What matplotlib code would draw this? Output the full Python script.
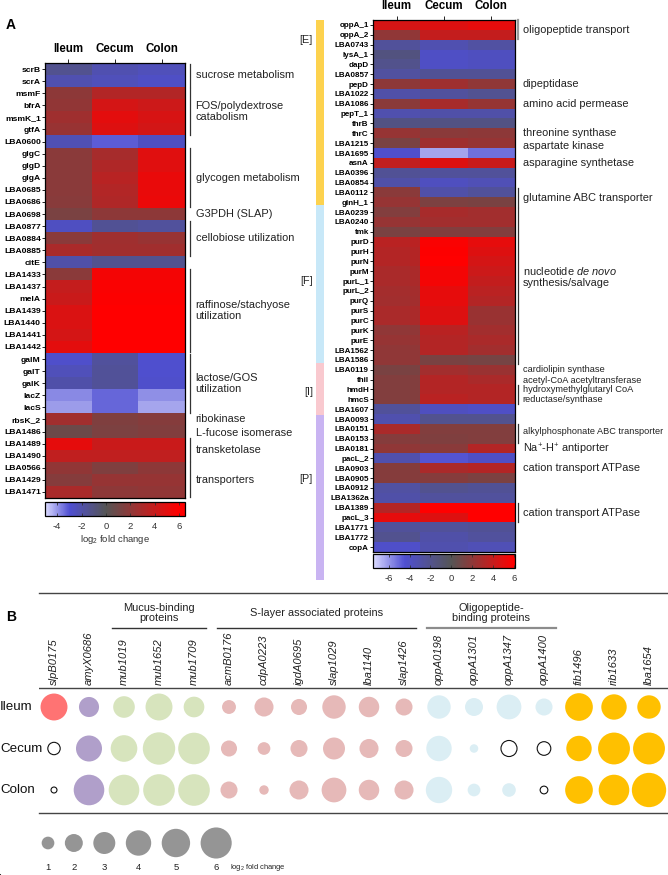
import numpy as np
import matplotlib
matplotlib.use('Agg')
import matplotlib.pyplot as plt
import matplotlib.transforms as mtrans
from matplotlib.colors import LinearSegmentedColormap

plt.rcParams['font.family'] = ['Liberation Sans', 'DejaVu Sans']
plt.rcParams['mathtext.fontset'] = 'custom'
plt.rcParams['mathtext.rm'] = 'Liberation Sans'
plt.rcParams['mathtext.it'] = 'Liberation Sans:italic'
plt.rcParams['mathtext.bf'] = 'Liberation Sans:bold'
plt.rcParams['axes.unicode_minus'] = False

# ---------------- data, panel A ----------------
tissues = ['Ileum', 'Cecum', 'Colon']

left_genes = ['scrB', 'scrA', 'msmF', 'bfrA', 'msmK_1', 'gtfA', 'LBA0600', 'glgC', 'glgD', 'glgA',
              'LBA0685', 'LBA0686', 'LBA0698', 'LBA0877', 'LBA0884', 'LBA0885', 'citE', 'LBA1433',
              'LBA1437', 'melA', 'LBA1439', 'LBA1440', 'LBA1441', 'LBA1442', 'galM', 'galT', 'galK',
              'lacZ', 'lacS', 'rbsK_2', 'LBA1486', 'LBA1489', 'LBA1490', 'LBA0566', 'LBA1429', 'LBA1471']
left_ileum = [-1.4, -2.2, 2.0, 2.1, 2.6, 2.4, -2.3, 1.9, 1.9, 1.9, 1.9, 1.8, 1.3, -2.6, 1.9, 3.0, -2.0, 1.9,
              3.9, 4.1, 4.7, 4.7, 4.5, 5.0, -2.8, -2.4, -2.0, -3.8, -4.1, 2.7, 0.8, 5.1, 3.8, 2.1, 1.7, 3.0]
left_cecum = [-2.2, -2.4, 3.3, 4.5, 5.0, 4.8, -3.2, 2.9, 3.2, 3.5, 3.3, 3.2, 2.0, -1.5, 2.6, 2.7, -1.4, 5.6,
              5.8, 5.9, 6.2, 6.2, 6.1, 6.2, -1.7, -1.6, -1.6, -3.3, -3.3, 1.5, 1.4, 4.1, 3.8, 1.5, 2.3, 2.0]
left_colon = [-2.4, -2.7, 3.3, 4.2, 4.6, 4.4, -2.6, 4.9, 4.9, 5.2, 5.2, 5.3, 2.0, -1.7, 2.4, 2.7, -1.4, 5.6,
              5.8, 5.9, 6.2, 6.2, 6.0, 6.2, -2.9, -2.9, -2.8, -3.9, -4.2, 1.7, 1.6, 4.1, 3.8, 2.0, 2.3, 2.1]

right_genes = ['oppA_1', 'oppA_2', 'LBA0743', 'lysA_1', 'dapD', 'LBA0857', 'pepD', 'LBA1022', 'LBA1086',
               'pepT_1', 'thrB', 'thrC', 'LBA1215', 'LBA1695', 'asnA', 'LBA0396', 'LBA0854', 'LBA0112',
               'glnH_1', 'LBA0239', 'LBA0240', 'tmk', 'purD', 'purH', 'purN', 'purM', 'purL_1', 'purL_2',
               'purQ', 'purS', 'purC', 'purK', 'purE', 'LBA1562', 'LBA1586', 'LBA0119', 'thiI', 'hmdH',
               'hmcS', 'LBA1607', 'LBA0093', 'LBA0151', 'LBA0153', 'LBA0181', 'pacL_2', 'LBA0903',
               'LBA0905', 'LBA0912', 'LBA1362a', 'LBA1389', 'pacL_3', 'LBA1771', 'LBA1772', 'copA']
right_ileum = [4.5, 2.1, -2.5, -1.5, -2.0, -2.7, 2.0, -3.0, 1.9, -3.2, -1.7, 2.3, 1.3, -4.3, 3.8, -2.3, -3.0,
               1.9, 2.3, 1.6, 2.3, 1.3, 3.5, 3.3, 3.3, 3.0, 3.0, 2.8, 2.7, 3.0, 3.0, 2.1, 2.3, 2.1, 2.1, 1.3,
               1.6, 1.6, 1.6, -2.5, -3.2, 3.0, 1.7, 2.1, -3.2, 1.7, 1.7, -2.8, -3.0, 3.3, 5.1, -2.5, -2.1, -4.2]
right_cecum = [4.8, 3.9, -3.3, -4.0, -4.0, -2.3, 2.6, -2.6, 2.9, -3.0, -1.7, 1.9, 2.6, -6.3, 4.8, -2.5, -3.8,
               -3.0, 1.4, 2.9, 2.7, 1.6, 5.8, 5.9, 6.1, 5.6, 5.6, 5.1, 5.1, 4.8, 4.8, 3.5, 3.3, 3.3, 1.3, 2.7,
               3.3, 3.3, 3.5, -3.8, -2.1, 1.6, 1.5, 1.9, -4.6, 3.0, 1.7, -2.1, -2.6, 6.1, 4.8, -2.5, -3.0, -3.2]
right_colon = [5.1, 3.9, -2.8, -3.8, -3.8, -2.3, 2.1, -2.2, 2.3, -3.0, -1.7, 2.0, 2.3, -5.2, 4.1, -2.5, -3.5,
               -2.5, 1.3, 2.7, 2.7, 1.6, 5.1, 4.8, 4.5, 4.2, 3.9, 3.6, 3.3, 2.4, 2.4, 2.7, 3.0, 2.7, 1.2, 2.4,
               3.0, 3.3, 3.3, -4.1, -2.1, 1.6, 1.6, 3.3, -4.0, 3.3, 1.4, -2.3, -2.6, 6.1, 6.1, -2.3, -2.6, -3.5]

# (first row, last row, text, bracket, fontsize, text row)
left_notes = [(0, 1, 'sucrose metabolism', True, 7.9, 0.5),
              (2, 5, 'FOS/polydextrose\ncatabolism', True, 7.9, 3.5),
              (7, 11, 'glycogen metabolism', True, 7.9, 9),
              (12, 12, 'G3PDH (SLAP)', False, 7.9, 12),
              (13, 15, 'cellobiose utilization', True, 7.9, 14),
              (17, 23, 'raffinose/stachyose\nutilization', True, 7.9, 20),
              (24, 28, 'lactose/GOS\nutilization', True, 7.9, 26),
              (29, 29, 'ribokinase', False, 7.9, 29),
              (30, 30, 'L-fucose isomerase', False, 7.9, 30.1),
              (31, 32, 'transketolase', True, 7.9, 31.5),
              (33, 35, 'transporters', True, 7.9, 34)]
right_notes = [(0, 1, 'oligopeptide transport', True, 7.9, 0.5),
               (6, 6, 'dipeptidase', False, 7.9, 6),
               (8, 8, 'amino acid permease', False, 7.9, 8),
               (11, 11, 'threonine synthase', False, 7.9, 11),
               (12, 12, 'aspartate kinase', False, 7.9, 12.3),
               (14, 14, 'asparagine synthetase', False, 7.9, 14),
               (17, 18, 'glutamine ABC transporter', True, 7.9, 17.6),
               (19, 34, 'nucleotide $\\it{de\\ novo}$\nsynthesis/salvage', True, 7.9, 25.5),
               (35, 35, 'cardiolipin synthase', False, 6.7, 35),
               (36, 36, 'acetyl-CoA acetyltransferase', False, 6.7, 36.1),
               (37, 38, 'hydroxymethylglutaryl CoA\nreductase/synthase', True, 6.7, 37.5),
               (41, 42, 'alkylphosphonate ABC transporter', True, 6.6, 41.3),
               (43, 43, 'Na$^{+}$-H$^{+}$ antiporter', False, 7.9, 43.1),
               (45, 45, 'cation transport ATPase', False, 7.9, 45),
               (49, 50, 'cation transport ATPase', True, 7.9, 49.5)]

group_tags = ['[E]', '[F]', '[I]', '[P]']
group_cols = ['#fdd24e', '#c8e8f8', '#f9c9cf', '#c9b4f2']
group_edges = [20, 205, 363, 415, 580]   # px along the side bar

# ---------------- data, panel B ----------------
genes_b = ['slpB0175', 'amyX0686', 'mub1019', 'mub1652', 'mub1709', 'acmB0176', 'cdpA0223', 'igdA0695',
           'slap1029', 'lba1140', 'slap1426', 'oppA0198', 'oppA1301', 'oppA1347', 'oppA1400',
           'fib1496', 'rib1633', 'lba1654']
colors_b = ['#ff7373', '#b09fca', '#d7e4bd', '#d7e4bd', '#d7e4bd', '#e6b9b8', '#e6b9b8', '#e6b9b8',
            '#e6b9b8', '#e6b9b8', '#e6b9b8', '#dbeef4', '#dbeef4', '#dbeef4', '#dbeef4',
            '#ffc000', '#ffc000', '#ffc000']
# negative = open circle
ileum_b = [4.5, 2.5, 2.9, 4.5, 2.65, 1.2, 2.25, 1.6, 3.4, 2.6, 1.8, 3.4, 2.0, 3.8, 1.8, 4.75, 4.0, 3.4]
cecum_b = [-0.95, 4.2, 4.4, 6.5, 6.2, 1.6, 1.0, 1.8, 3.0, 2.25, 1.8, 4.0, 0.45, -1.6, -1.15, 4.0, 6.3, 6.3]
colon_b = [-0.22, 5.8, 5.8, 6.2, 6.2, 1.8, 0.55, 2.25, 3.8, 2.6, 2.25, 4.3, 1.0, 1.15, -0.37, 4.75, 5.8, 7.3]
headers_b = [('Mucus-binding\nproteins', 2, 4, '#333333'),
             ('S-layer associated proteins', 5, 10, '#333333'),
             ('Oligopeptide-\nbinding proteins', 11, 14, '#8c8c8c')]
legend_vals = [1, 2, 3, 4, 5, 6]

# ---------------- figure ----------------
W, H = 668, 875
fig = plt.figure(figsize=(W / 100, H / 100), dpi=100)


def px_axes(x0, y0, x1, y1):
    return fig.add_axes([x0 / W, 1 - y1 / H, (x1 - x0) / W, (y1 - y0) / H])


def make_cmap(vmin, vmax, blue_at):
    nodes = [(vmin, '#dcdcff'), (blue_at, '#4f4fd2'), (0, '#555555'), (6, '#ff0000'), (vmax, '#ff0000')]
    return LinearSegmentedColormap.from_list('fc', [((v - vmin) / (vmax - vmin), c) for v, c in nodes])


def heatmap(ax, genes, cols, cmap, vmin, vmax, fs):
    mat = np.column_stack(cols)
    im = ax.imshow(mat, cmap=cmap, vmin=vmin, vmax=vmax, aspect='auto', interpolation='nearest')
    ax.set_yticks(range(len(genes)))
    ax.set_yticklabels(genes, fontsize=fs, fontweight='bold')
    ax.set_xticks(range(3))
    ax.set_xticklabels(tissues, fontsize=8.3, fontweight='bold')
    ax.xaxis.tick_top()
    ax.tick_params(axis='x', length=3, width=0.6, pad=3)
    ax.tick_params(axis='y', length=2, width=0.6, pad=1)
    for s in ax.spines.values():
        s.set_linewidth(0.9)
    return im


def notes(ax, items, xb, xt, first_grey=False):
    tr = mtrans.blended_transform_factory(ax.transAxes, ax.transData)
    for i, (r0, r1, txt, br, fs, ty) in enumerate(items):
        if br:
            c, lw = ('#333333', 0.9)
            if i == 0 and first_grey:
                c, lw = ('#999999', 1.6)
            ax.plot([xb, xb], [r0 - 0.45, r1 + 0.45], color=c, lw=lw, transform=tr, clip_on=False)
        ax.text(xt, ty, txt, transform=tr, fontsize=fs, va='center', ha='left', linespacing=1.15,
                color='#222222')


def colorbar(im, box, ticks):
    cax = px_axes(*box)
    cb = fig.colorbar(im, cax=cax, orientation='horizontal')
    cb.set_ticks(ticks)
    cb.ax.tick_params(labelsize=6.8, length=2.5, width=0.6, direction='in', top=True, bottom=True,
                      pad=4, colors='#333333')
    cb.outline.set_linewidth(0.9)
    return cb


# left heatmap
vmin_l, vmax_l = -5.0, 6.5
ax_l = px_axes(45, 63, 185, 498)
im_l = heatmap(ax_l, left_genes, [left_ileum, left_cecum, left_colon],
               make_cmap(vmin_l, vmax_l, -3.0), vmin_l, vmax_l, 6.1)
notes(ax_l, left_notes, 1.036, 1.075)
colorbar(im_l, (45, 502, 185, 516), [-4, -2, 0, 2, 4, 6])
fig.text(115 / W, 1 - 540 / H, 'log$_2$ fold change', fontsize=6.8, ha='center', va='center',
         color='#333333')

# right heatmap
vmin_r, vmax_r = -7.5, 6.1
ax_r = px_axes(373, 20, 515, 552)
im_r = heatmap(ax_r, right_genes, [right_ileum, right_cecum, right_colon],
               make_cmap(vmin_r, vmax_r, -4.5), vmin_r, vmax_r, 5.8)
notes(ax_r, right_notes, 1.02, 1.055, first_grey=True)
colorbar(im_r, (373, 554, 515, 568), [-6, -4, -2, 0, 2, 4, 6])

# side bar with groups
ax_g = px_axes(316, group_edges[0], 324, group_edges[-1])
for k in range(len(group_tags)):
    ax_g.bar(0, group_edges[k + 1] - group_edges[k], bottom=group_edges[k], width=1,
             color=group_cols[k], linewidth=0)
ax_g.set_xlim(-0.5, 0.5)
ax_g.set_ylim(group_edges[-1], group_edges[0])
ax_g.axis('off')
for tag, ty in zip(group_tags, [40, 281, 392, 479]):
    fig.text(313 / W, 1 - ty / H, tag, fontsize=7.8, ha='right', va='center', color='#222222')

fig.text(6 / W, 1 - 25 / H, 'A', fontsize=10, fontweight='bold', va='center')
fig.text(6 / W, 1 - 617 / H, 'B', fontsize=10, fontweight='bold', va='center')

# ---------------- panel B ----------------
x0c, dxc = 54.0, 35.0      # px of first column / spacing
y0r, dyr = 707.0, 41.5     # px of first row / spacing
bx0, bx1, by0, by1 = 39, 668, 593, 813
ax_b = px_axes(bx0, by0, bx1, by1)
ax_b.set_xlim((bx0 - x0c) / dxc, (bx1 - x0c) / dxc)
ax_b.set_ylim((by1 - y0r) / dyr, (by0 - y0r) / dyr)
for s in ['left', 'right']:
    ax_b.spines[s].set_visible(False)
for s in ['top', 'bottom']:
    ax_b.spines[s].set_linewidth(1.0)
    ax_b.spines[s].set_color('#444444')
ax_b.set_xticks([])
ax_b.set_yticks([])
line_j = (688 - y0r) / dyr
ax_b.axhline(line_j, color='#444444', lw=1.0)

k_size = (12.7 * 0.72) ** 2   # points^2 per unit log2 FC
xs = np.arange(len(genes_b))
for j, (name, vals) in enumerate(zip(tissues, [ileum_b, cecum_b, colon_b])):
    vals = np.array(vals)
    filled = vals > 0
    ax_b.scatter(xs[filled], np.full(filled.sum(), j), s=k_size * vals[filled],
                 c=[colors_b[i] for i in xs[filled]], linewidths=0, clip_on=False)
    ax_b.scatter(xs[~filled], np.full((~filled).sum(), j), s=k_size * np.abs(vals[~filled]),
                 facecolors='none', edgecolors='#111111', linewidths=0.8, clip_on=False)
    ax_b.text((0 - x0c) / dxc, j, name, fontsize=9.6, ha='left', va='center', color='#111111')

for i, g in enumerate(genes_b):
    ax_b.text(i, (685 - y0r) / dyr, g, rotation=90, fontsize=8, style='italic', ha='center',
              va='bottom', color='#222222')

for txt, c0, c1, col in headers_b:
    ax_b.text((c0 + c1) / 2, (613 - y0r) / dyr, txt, fontsize=7.9, ha='center', va='center',
              linespacing=1.1, color='#222222')
    ax_b.plot([c0 - 0.35, c1 + 0.35], [(628 - y0r) / dyr] * 2, color=col,
              lw=1.0 if col == '#333333' else 1.6, clip_on=False)

# size legend
ax_k = px_axes(0, 820, W, H)
ax_k.set_xlim(0, W)
ax_k.set_ylim(H, 820)
ax_k.axis('off')
diam = 12.7 * np.sqrt(legend_vals)
lx = [48.0]
for a, b in zip(diam[:-1], diam[1:]):
    lx.append(lx[-1] + (a + b) / 2 + 10.5)
ax_k.scatter(lx, [843] * len(lx), s=k_size * np.array(legend_vals), c='#959595', linewidths=0,
             clip_on=False)
for x, v in zip(lx, legend_vals):
    ax_k.text(x, 868, str(v), fontsize=6.8, ha='center', va='center', color='#222222')
ax_k.text(lx[-1] + 14, 868, 'log$_2$ fold change', fontsize=5.4, ha='left', va='center', color='#222222')

fig.savefig('out.png', dpi=100)
